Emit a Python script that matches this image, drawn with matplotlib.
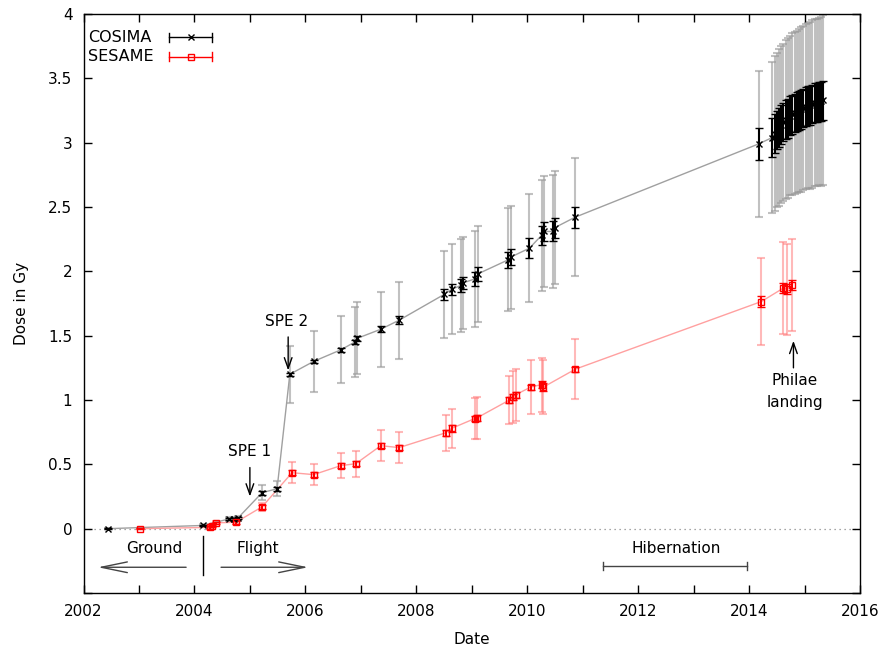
import numpy as np
import matplotlib
matplotlib.use("Agg")
import matplotlib.pyplot as plt
from matplotlib.ticker import MultipleLocator

plt.rcParams['font.family'] = ['DejaVu Sans']
plt.rcParams['font.size'] = 11

# COSIMA: date, dose, statistical error, systematic error
cosima_year = [2002.44, 2004.15, 2004.62, 2004.71, 2004.79, 2005.22, 2005.49, 2005.72,
               2006.15, 2006.64, 2006.89, 2006.94, 2007.36, 2007.69, 2008.50, 2008.64,
               2008.80, 2008.84, 2009.05, 2009.11, 2009.66, 2009.70, 2010.04, 2010.26,
               2010.30, 2010.46, 2010.50, 2010.86, 2014.17,
               2014.42, 2014.46, 2014.50, 2014.54, 2014.58, 2014.62, 2014.66, 2014.70,
               2014.74, 2014.78, 2014.82, 2014.86, 2014.90, 2014.94, 2014.98, 2015.02,
               2015.06, 2015.10, 2015.14, 2015.18, 2015.22, 2015.26, 2015.30, 2015.33]
cosima_dose = [0.0, 0.025, 0.075, 0.078, 0.085, 0.28, 0.31, 1.20,
               1.30, 1.39, 1.45, 1.48, 1.55, 1.62, 1.82, 1.86,
               1.89, 1.91, 1.94, 1.98, 2.09, 2.11, 2.18, 2.28,
               2.31, 2.31, 2.34, 2.42, 2.99,
               3.04, 3.07, 3.10, 3.12, 3.14, 3.16, 3.18, 3.19,
               3.21, 3.22, 3.23, 3.24, 3.25, 3.26, 3.27, 3.28,
               3.29, 3.29, 3.30, 3.31, 3.31, 3.32, 3.32, 3.33]
cosima_stat = [0.005, 0.006, 0.008, 0.008, 0.008, 0.015, 0.015, 0.01,
               0.012, 0.015, 0.018, 0.02, 0.022, 0.03, 0.043, 0.041,
               0.048, 0.048, 0.055, 0.056, 0.062, 0.062, 0.08, 0.076,
               0.076, 0.078, 0.078, 0.08, 0.125,
               0.15, 0.15, 0.15, 0.15, 0.15, 0.15, 0.15, 0.15,
               0.15, 0.15, 0.15, 0.15, 0.15, 0.15, 0.15, 0.15,
               0.15, 0.15, 0.15, 0.15, 0.15, 0.15, 0.15, 0.15]
cosima_sys = [0.005, 0.01, 0.015, 0.015, 0.015, 0.06, 0.06, 0.22,
              0.24, 0.26, 0.27, 0.28, 0.29, 0.30, 0.34, 0.35,
              0.36, 0.36, 0.37, 0.37, 0.40, 0.40, 0.42, 0.43,
              0.43, 0.44, 0.44, 0.46, 0.57,
              0.59, 0.60, 0.60, 0.61, 0.61, 0.61, 0.62, 0.62,
              0.62, 0.63, 0.63, 0.63, 0.63, 0.64, 0.64, 0.64,
              0.64, 0.65, 0.65, 0.65, 0.65, 0.65, 0.66, 0.66]

# SESAME
sesame_year = [2003.02, 2004.28, 2004.32, 2004.38, 2004.75, 2005.22, 2005.76, 2006.15,
               2006.64, 2006.91, 2007.36, 2007.69, 2008.53, 2008.64, 2009.05, 2009.09,
               2009.68, 2009.74, 2009.79, 2010.06, 2010.26, 2010.29, 2010.87, 2014.22,
               2014.62, 2014.69, 2014.78]
sesame_dose = [0.0, 0.01, 0.02, 0.045, 0.05, 0.17, 0.435, 0.42,
               0.49, 0.505, 0.645, 0.63, 0.745, 0.78, 0.855, 0.86,
               1.0, 1.025, 1.04, 1.10, 1.12, 1.10, 1.24, 1.765,
               1.87, 1.86, 1.895]
sesame_stat = [0.003, 0.01, 0.01, 0.01, 0.01, 0.015, 0.02, 0.02,
               0.02, 0.02, 0.02, 0.02, 0.025, 0.025, 0.02, 0.02,
               0.025, 0.025, 0.025, 0.02, 0.03, 0.03, 0.02, 0.04,
               0.04, 0.04, 0.04]
sesame_sys = [0.003, 0.01, 0.01, 0.012, 0.012, 0.03, 0.08, 0.08,
              0.095, 0.10, 0.12, 0.12, 0.14, 0.15, 0.16, 0.16,
              0.19, 0.20, 0.20, 0.21, 0.21, 0.21, 0.235, 0.335,
              0.355, 0.355, 0.36]

fig = plt.figure(figsize=(8.8, 6.53), dpi=100)
ax = fig.add_axes([83.5 / 880, 60 / 653, 776.5 / 880, 579 / 653])

# zero line
ax.axhline(0, color='#888888', lw=0.9, ls=(0, (1, 3)), zorder=0)

# systematic bars (wide)
ax.errorbar(cosima_year, cosima_dose, yerr=cosima_sys, fmt='none', ecolor='#999999',
            alpha=0.6, elinewidth=1.5, capsize=3, capthick=1.5, zorder=1)
ax.errorbar(sesame_year, sesame_dose, yerr=sesame_sys, fmt='none', ecolor='#ff8080',
            alpha=0.55, elinewidth=1.5, capsize=3, capthick=1.5, zorder=1)

# connecting lines
ax.plot(cosima_year, cosima_dose, color='#a0a0a0', lw=1, zorder=2)
ax.plot(sesame_year, sesame_dose, color='#ffa0a0', lw=1, zorder=2)

# statistical bars + markers
ax.errorbar(cosima_year, cosima_dose, yerr=cosima_stat, fmt='x', color='black', ms=4.5,
            mew=1, ecolor='black', elinewidth=1.5, capsize=3, capthick=1.5, zorder=3)
ax.errorbar(sesame_year, sesame_dose, yerr=sesame_stat, fmt='s', color='red', ms=4.5,
            mfc='none', mew=1, ecolor='red', elinewidth=1.5, capsize=3, capthick=1.5, zorder=3)

ax.set_xlim(2002, 2016)
ax.set_ylim(-0.5, 4)
ax.xaxis.set_major_locator(MultipleLocator(2))
ax.xaxis.set_minor_locator(MultipleLocator(1))
ax.set_yticks([-0.5, 0, 0.5, 1, 1.5, 2, 2.5, 3, 3.5, 4])
ax.set_yticklabels(['', '0', '0.5', '1', '1.5', '2', '2.5', '3', '3.5', '4'])
ax.tick_params(which='both', direction='in', top=True, right=True, length=6,
               width=1, labelsize=11, pad=8)
for s in ax.spines.values():
    s.set_linewidth(1)
ax.set_xlabel('Date', fontsize=11, labelpad=9)
ax.set_ylabel('Dose in Gy', fontsize=11, labelpad=14)

# legend drawn by hand (gnuplot style)
tr = ax.transAxes
for yy, lab, col, mk in [(0.960, 'COSIMA', 'black', 'x'), (0.926, 'SESAME', 'red', 's')]:
    ax.text(0.006, yy, lab, transform=tr, fontsize=11.5, va='center', ha='left')
    ax.plot([0.110, 0.165], [yy, yy], transform=tr, color=col, lw=1, clip_on=False)
    for xx in (0.110, 0.165):
        ax.plot([xx, xx], [yy - 0.008, yy + 0.008], transform=tr, color=col, lw=1)
    ax.plot([0.138], [yy], transform=tr, marker=mk, color=col, ms=4.5, mfc='none', mew=1)

# annotations
arr_small = dict(arrowstyle='->,head_length=0.7,head_width=0.25', color='black', lw=1,
                 shrinkA=0, shrinkB=0)
ax.text(2005.0, 0.60, 'SPE 1', ha='center', va='center', fontsize=11)
ax.annotate('', xy=(2005.0, 0.25), xytext=(2005.0, 0.475), arrowprops=arr_small)
ax.text(2005.67, 1.61, 'SPE 2', ha='center', va='center', fontsize=11)
ax.annotate('', xy=(2005.69, 1.23), xytext=(2005.69, 1.49), arrowprops=arr_small)
ax.text(2014.82, 1.15, 'Philae', ha='center', va='center', fontsize=11)
ax.text(2014.82, 0.98, 'landing', ha='center', va='center', fontsize=11)
ax.annotate('', xy=(2014.8, 1.46), xytext=(2014.8, 1.25), arrowprops=arr_small)

arr_big = dict(arrowstyle='->,head_length=1.7,head_width=0.35', color='#444444', lw=1,
               shrinkA=0, shrinkB=0)
ax.text(2003.27, -0.155, 'Ground', ha='center', va='center', fontsize=11)
ax.annotate('', xy=(2002.26, -0.30), xytext=(2003.85, -0.30), arrowprops=arr_big)
ax.text(2005.15, -0.155, 'Flight', ha='center', va='center', fontsize=11)
ax.annotate('', xy=(2006.05, -0.30), xytext=(2004.48, -0.30), arrowprops=arr_big)
ax.plot([2004.15, 2004.15], [-0.06, -0.36], color='black', lw=1)

ax.text(2012.68, -0.155, 'Hibernation', ha='center', va='center', fontsize=11)
ax.plot([2011.36, 2013.97], [-0.29, -0.29], color='#444444', lw=1)
for xx in (2011.36, 2013.97):
    ax.plot([xx, xx], [-0.26, -0.32], color='#444444', lw=1)

fig.savefig('out.png', dpi=100)
